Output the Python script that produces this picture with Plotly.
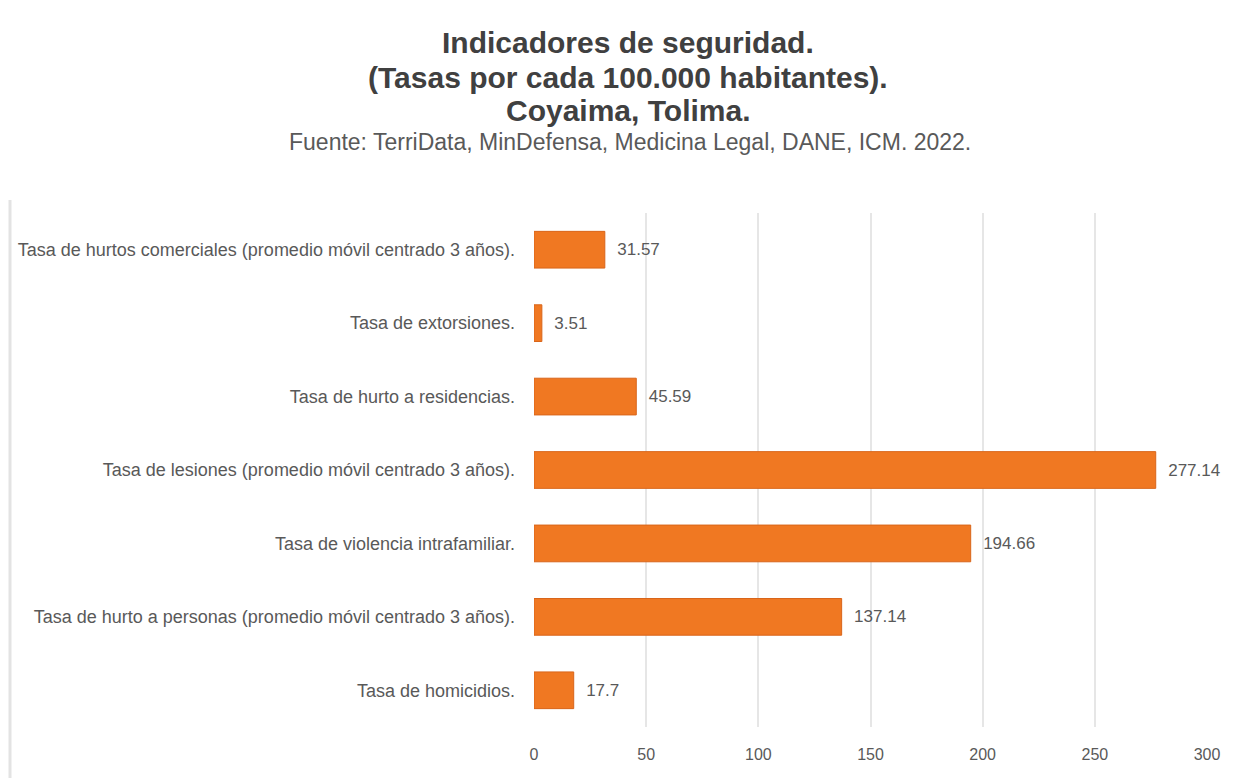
import plotly.graph_objects as go

categories = [
    "Tasa de homicidios.",
    "Tasa de hurto a personas (promedio móvil centrado 3 años).",
    "Tasa de violencia intrafamiliar.",
    "Tasa de lesiones (promedio móvil centrado 3 años).",
    "Tasa de hurto a residencias.",
    "Tasa de extorsiones.",
    "Tasa de hurtos comerciales (promedio móvil centrado 3 años).",
]
values = [17.7, 137.14, 194.66, 277.14, 45.59, 3.51, 31.57]
value_labels = ["17.7", "137.14", "194.66", "277.14", "45.59", "3.51", "31.57"]
tick_vals = [0, 50, 100, 150, 200, 250, 300]

title_lines = [
    "Indicadores de seguridad.",
    "(Tasas por cada 100.000 habitantes).",
    "Coyaima, Tolima.",
]
subtitle = "Fuente: TerriData, MinDefensa, Medicina Legal, DANE, ICM. 2022."

FONT = "Liberation Sans"
GRAY = "#595959"

W, H = 1234, 778
OFF = 8  # page body margin
# plot area in screenshot pixels
PX0, PX1, PY0, PY1 = 534, 1207, 213, 727
l = PX0 - OFF
r = W - (PX1 - OFF)
t = PY0 - OFF
b = H - (PY1 - OFF)


def px(x):
    return (x - OFF - l) / (W - l - r)


def py(y):
    return (H - (y - OFF) - b) / (H - t - b)


fig = go.Figure()
fig.add_trace(go.Bar(
    y=categories,
    x=values,
    orientation="h",
    marker=dict(color="#F07822", line=dict(color="#D9651A", width=1)),
    text=["\u00a0\u00a0" + s for s in value_labels],
    textposition="outside",
    textfont=dict(family=FONT, size=17, color=GRAY),
    cliponaxis=False,
    width=0.5,
))

fig.update_layout(
    width=W, height=H,
    margin=dict(l=l, r=r, t=t, b=b),
    paper_bgcolor="white",
    plot_bgcolor="white",
    showlegend=False,
    font=dict(family=FONT, color=GRAY),
    xaxis=dict(
        range=[0, 300],
        tickvals=tick_vals,
        showgrid=True,
        gridcolor="#E6E6E6",
        gridwidth=2,
        zeroline=False,
        showline=False,
        tickfont=dict(family=FONT, size=16, color=GRAY),
        ticks="",
        ticklabelstandoff=16,
        automargin=False,
    ),
    yaxis=dict(
        categoryorder="array",
        categoryarray=categories,
        showgrid=False,
        showline=False,
        ticks="",
        tickfont=dict(family=FONT, size=18, color=GRAY),
        ticklabelstandoff=18,
        automargin=False,
    ),
)

ys = [42, 77, 110]
for line, yy in zip(title_lines, ys):
    fig.add_annotation(
        text="<b>" + line + "</b>", x=px(628), y=py(yy), xref="paper", yref="paper",
        showarrow=False, xanchor="center", yanchor="middle",
        font=dict(family=FONT, size=30, color="#404040"),
    )

fig.add_annotation(
    text=subtitle,
    x=px(630), y=py(142),
    xref="paper", yref="paper", showarrow=False,
    xanchor="center", yanchor="middle",
    font=dict(family=FONT, size=23, color=GRAY),
)

fig.add_shape(
    type="line", xref="paper", yref="paper",
    x0=px(10), x1=px(10),
    y0=py(790), y1=py(200),
    line=dict(color="#E3E3E3", width=3),
)

fig.write_html("out.html")
